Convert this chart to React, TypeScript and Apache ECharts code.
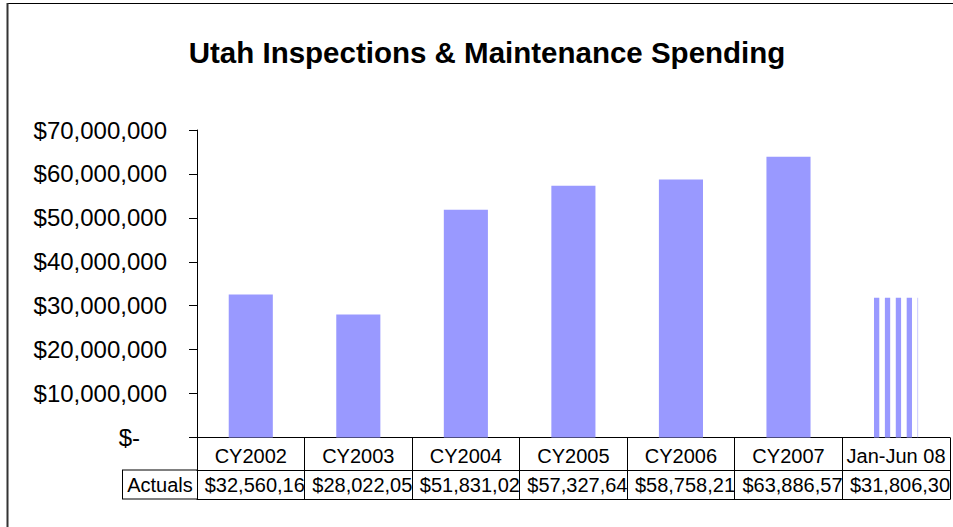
import React, { useEffect, useRef } from "react";
import * as echarts from "echarts";

const titleText = "Utah Inspections & Maintenance Spending";
const categories = ["CY2002", "CY2003", "CY2004", "CY2005", "CY2006", "CY2007", "Jan-Jun 08"];
const seriesName = "Actuals";
const actuals = [32560164, 28022053, 51831024, 57327646, 58758214, 63886573, 31806302];
const partialIndex = 6; // Jan-Jun 08 is a partial year, drawn striped
const yMin = 0;
const yMax = 70000000;
const yInterval = 10000000;

const FONT = "'Liberation Sans', Arial, sans-serif";
const BAR = "#9999FF";

const fmtMoney = (v: number) => "$" + Math.round(v).toLocaleString("en-US");

export default function App() {
  const ref = useRef<HTMLDivElement>(null);
  useEffect(() => {
    if (!ref.current) return;
    const chart = echarts.init(ref.current, undefined, { renderer: "svg" });
    const option: any = {
      animation: false,
      backgroundColor: "#fff",
      textStyle: { fontFamily: FONT },
      title: {
        text: titleText,
        left: 487,
        top: 37,
        padding: 0,
        textAlign: "center",
        textStyle: { fontFamily: FONT, fontSize: 29.5, fontWeight: "bold", color: "#000" },
      },
      grid: { left: 197, right: 2, top: 130, bottom: 89.5, containLabel: false },
      xAxis: [
        {
          type: "category",
          data: categories,
          position: "bottom",
          boundaryGap: true,
          axisLine: { show: true, lineStyle: { color: "#000", width: 1 } },
          axisTick: { show: true, length: 62, alignWithLabel: false, lineStyle: { color: "#000", width: 1 } },
          axisLabel: { interval: 0, margin: 8, fontSize: 20, color: "#000", fontFamily: FONT },
          splitLine: { show: false },
        },
        {
          type: "category",
          data: categories,
          position: "bottom",
          offset: 32.5,
          axisLine: { show: true, lineStyle: { color: "#000", width: 1 } },
          axisTick: { show: false },
          axisLabel: {
            interval: 0,
            margin: 5,
            fontSize: 20,
            color: "#000",
            fontFamily: FONT,
            width: 104,
            overflow: "truncate",
            ellipsis: "",
            padding: [0, 0, 0, 8],
            formatter: (_v: string, i: number) => fmtMoney(actuals[i]),
          },
        },
        {
          type: "category",
          data: categories,
          position: "bottom",
          offset: 61.5,
          axisLine: { show: true, lineStyle: { color: "#000", width: 1 } },
          axisTick: { show: false },
          axisLabel: { show: false },
        },
      ],
      yAxis: {
        type: "value",
        min: yMin,
        max: yMax,
        interval: yInterval,
        axisLine: { show: true, lineStyle: { color: "#000", width: 1 } },
        axisTick: { show: true, length: 8, lineStyle: { color: "#000", width: 1 } },
        splitLine: { show: false },
        axisLabel: {
          margin: 30,
          fontSize: 24,
          color: "#000",
          fontFamily: FONT,
          formatter: (v: number) => (v === 0 ? "{z|$-}" : fmtMoney(v)),
          rich: { z: { fontSize: 24, color: "#000", fontFamily: FONT, padding: [0, 27, 0, 0] } },
        },
      },
      series: [
        {
          name: seriesName,
          type: "bar",
          xAxisIndex: 0,
          barWidth: "41%",
          itemStyle: { color: BAR },
          data: actuals.map((v, i) => (i === partialIndex ? "-" : v)),
        },
        {
          name: seriesName,
          type: "custom",
          xAxisIndex: 0,
          data: [[partialIndex, actuals[partialIndex]]],
          renderItem: (_params: any, api: any) => {
            const top = api.coord([api.value(0), api.value(1)]);
            const base = api.coord([api.value(0), 0]);
            const band = api.size([1, 0])[0];
            const w = band * 0.41;
            const x0 = top[0] - w / 2;
            const end = x0 + w;
            const stripe = 5.3;
            const period = 10.9;
            const children: any[] = [];
            for (let x = x0; x < end; x += period) {
              children.push({
                type: "rect",
                shape: { x, y: top[1], width: Math.min(stripe, end - x), height: base[1] - top[1] },
                style: { fill: BAR },
              });
            }
            return { type: "group", children };
          },
        },
      ],
      graphic: [
        { type: "line", shape: { x1: 7, y1: 3.5, x2: 953, y2: 3.5 }, style: { stroke: "#000", lineWidth: 1 } },
        { type: "line", shape: { x1: 7.5, y1: 3, x2: 7.5, y2: 527 }, style: { stroke: "#333", lineWidth: 2 } },
        { type: "line", shape: { x1: 122, y1: 470, x2: 197, y2: 470 }, style: { stroke: "#000", lineWidth: 1 } },
        { type: "line", shape: { x1: 122, y1: 499, x2: 197, y2: 499 }, style: { stroke: "#000", lineWidth: 1 } },
        { type: "line", shape: { x1: 122.5, y1: 470, x2: 122.5, y2: 499 }, style: { stroke: "#000", lineWidth: 1 } },
        {
          type: "text",
          x: 160,
          y: 485,
          style: { text: seriesName, fontSize: 20, fontFamily: FONT, fill: "#000", align: "center", verticalAlign: "middle" },
        },
      ],
    };
    chart.setOption(option);
    return () => chart.dispose();
  }, []);
  return <div ref={ref} style={{ width: 953, height: 527, position: "absolute", left: 0, top: 0 }} />;
}
